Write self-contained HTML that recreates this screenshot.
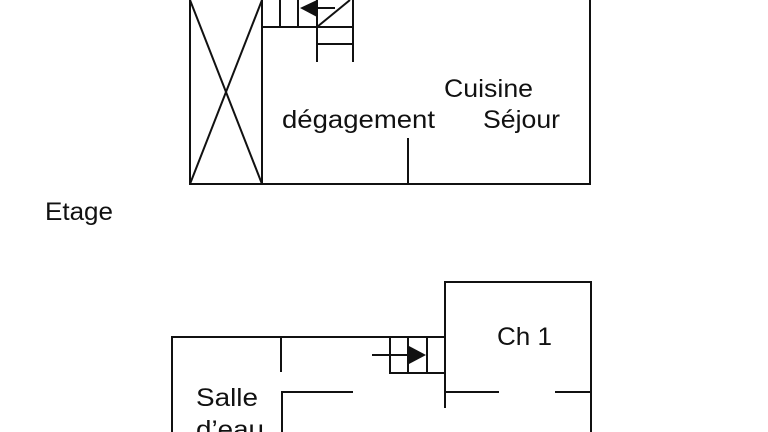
<!DOCTYPE html>
<html><head><meta charset="utf-8"><style>
html,body{margin:0;padding:0;background:#fff;}
svg{display:block;}
text{font-family:"Liberation Sans",Arial,sans-serif;font-size:25px;fill:#111;}
</style></head><body>
<svg width="768" height="432" viewBox="0 0 768 432">
<g stroke="#111" stroke-width="2" fill="none">
<polyline points="190,0 190,184 590,184 590,0"/>
<line x1="262" y1="0" x2="262" y2="184"/>
<line x1="190" y1="0" x2="262" y2="184"/>
<line x1="262" y1="0" x2="190" y2="184"/>
<line x1="262" y1="27" x2="353" y2="27"/>
<line x1="280" y1="0" x2="280" y2="27"/>
<line x1="298" y1="0" x2="298" y2="27"/>
<line x1="317" y1="0" x2="317" y2="62"/>
<line x1="353" y1="0" x2="353" y2="62"/>
<line x1="317" y1="44" x2="353" y2="44"/>
<line x1="317" y1="8" x2="335" y2="8"/>
<line x1="317" y1="27" x2="350" y2="0"/>
<line x1="408" y1="138" x2="408" y2="184"/>
<polyline points="172,432 172,337 445,337"/>
<line x1="281" y1="337" x2="281" y2="372"/>
<rect x="390" y="337" width="55" height="36"/>
<line x1="408" y1="337" x2="408" y2="373"/>
<line x1="427" y1="337" x2="427" y2="373"/>
<line x1="372" y1="355" x2="410" y2="355"/>
<polyline points="445,408 445,282 591,282 591,432"/>
<line x1="445" y1="392" x2="499" y2="392"/>
<line x1="555" y1="392" x2="591" y2="392"/>
<polyline points="353,392 282,392 282,432"/>
</g>
<polygon points="300,8 317,0 317,17" fill="#111"/>
<polygon points="426,355 409,346 409,364" fill="#111"/>
<text x="444" y="97" textLength="89" lengthAdjust="spacingAndGlyphs">Cuisine</text>
<text x="282" y="128" textLength="153" lengthAdjust="spacingAndGlyphs">dégagement</text>
<text x="483" y="128" textLength="77" lengthAdjust="spacingAndGlyphs">Séjour</text>
<text x="45" y="220" textLength="68" lengthAdjust="spacingAndGlyphs">Etage</text>
<text x="497" y="345" textLength="55" lengthAdjust="spacingAndGlyphs">Ch 1</text>
<text x="196" y="406" textLength="62" lengthAdjust="spacingAndGlyphs">Salle</text>
<text x="196" y="438" textLength="68" lengthAdjust="spacingAndGlyphs">d’eau</text>
</svg>
</body></html>
